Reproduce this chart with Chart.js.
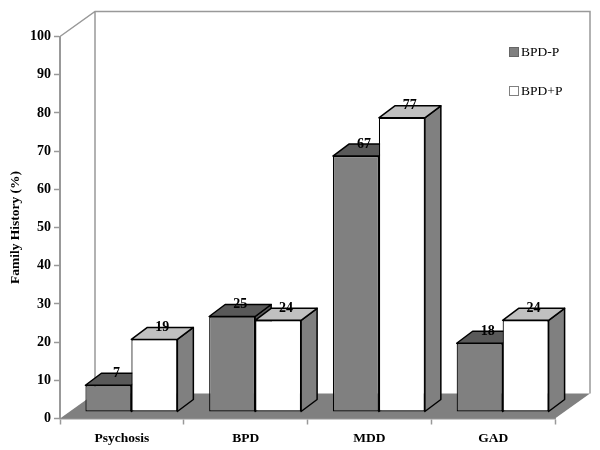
<!DOCTYPE html>
<html>
<head>
<meta charset="utf-8">
<style>
  body { margin: 0; background: #fff; }
  canvas { display: block; }
</style>
<script src="https://cdn.jsdelivr.net/npm/chart.js@4"></script>
</head>
<body>
<canvas id="familyChart" width="600" height="450"></canvas>
<script>
// --- Data ---
const categories = ['Psychosis', 'BPD', 'MDD', 'GAD'];
const bpdMinusP = [7, 25, 67, 18];
const bpdPlusP = [19, 24, 77, 24];

// --- 3D look ---
const SERIF = "'Liberation Serif', serif";
const GREY = '#808080';
const LINE = '#999999';
const WALL_DX = 35, WALL_DY = 25;   // depth of the box
const BAR_DX = 9.5, BAR_DY = 6.5;   // bars stand a little behind the front edge
const DEPTH_DX = 16, DEPTH_DY = 12; // depth of one bar

const topColors = ['#595959', '#c0c0c0'];
const sideColors = ['#595959', '#808080'];

function poly(ctx, pts, fill, stroke, width) {
    ctx.beginPath();
    pts.forEach((p, i) => i ? ctx.lineTo(p[0], p[1]) : ctx.moveTo(p[0], p[1]));
    ctx.closePath();
    if (fill) { ctx.fillStyle = fill; ctx.fill(); }
    if (stroke) { ctx.strokeStyle = stroke; ctx.lineWidth = width; ctx.lineJoin = 'round'; ctx.stroke(); }
}

const box3d = {
    id: 'box3d',
    beforeDatasetsDraw(chart) {
        const { ctx, chartArea: a } = chart;
        // walls and floor
        poly(ctx, [[a.left, a.bottom], [a.right, a.bottom], [a.right + WALL_DX, a.bottom - WALL_DY], [a.left + WALL_DX, a.bottom - WALL_DY]], GREY);
        ctx.strokeStyle = LINE;
        ctx.lineWidth = 1.5;
        ctx.beginPath();
        ctx.moveTo(a.left, a.top);
        ctx.lineTo(a.left + WALL_DX, a.top - WALL_DY);
        ctx.lineTo(a.right + WALL_DX, a.top - WALL_DY);
        ctx.lineTo(a.right + WALL_DX, a.bottom - WALL_DY);
        ctx.moveTo(a.left + WALL_DX, a.top - WALL_DY);
        ctx.lineTo(a.left + WALL_DX, a.bottom - WALL_DY);
        ctx.stroke();

        // top and side of each bar, left series first, fronts come later from the library
        ctx.save();
        ctx.translate(BAR_DX, -BAR_DY);
        categories.forEach((c, j) => {
            chart.data.datasets.forEach((ds, i) => {
                const bar = chart.getDatasetMeta(i).data[j];
                const l = bar.x - bar.width / 2, r = bar.x + bar.width / 2;
                poly(ctx, [[r, bar.y], [r + DEPTH_DX, bar.y - DEPTH_DY], [r + DEPTH_DX, bar.base - DEPTH_DY], [r, bar.base]], sideColors[i], '#000', 1.5);
                poly(ctx, [[l, bar.y], [l + DEPTH_DX, bar.y - DEPTH_DY], [r + DEPTH_DX, bar.y - DEPTH_DY], [r, bar.y]], topColors[i], '#000', 1.5);
            });
        });
        ctx.restore();
    },
    beforeDatasetDraw(chart) {
        chart.ctx.save();
        chart.ctx.translate(BAR_DX, -BAR_DY);
    },
    afterDatasetDraw(chart) {
        chart.ctx.restore();
    },
    // value labels and legend
    afterDatasetsDraw(chart) {
        const { ctx } = chart;
        ctx.save();
        ctx.fillStyle = '#000';
        ctx.font = 'bold 14px ' + SERIF;
        ctx.textAlign = 'center';
        ctx.textBaseline = 'middle';
        chart.data.datasets.forEach((ds, i) => {
            chart.getDatasetMeta(i).data.forEach((bar, j) => {
                ctx.fillText(ds.data[j], bar.x + BAR_DX + DEPTH_DX / 2, bar.y - BAR_DY - 12);
            });
        });
        const legendY = [52, 91];
        ctx.textAlign = 'left';
        ctx.font = '13.5px ' + SERIF;
        chart.data.datasets.forEach((ds, i) => {
            ctx.fillStyle = ds.backgroundColor;
            ctx.strokeStyle = i ? '#808080' : '#666666';
            ctx.lineWidth = 1;
            ctx.fillRect(509.5, legendY[i] - 4.5, 9, 9);
            ctx.strokeRect(509.5, legendY[i] - 4.5, 9, 9);
            ctx.fillStyle = '#000';
            ctx.fillText(ds.label, 521, legendY[i]);
        });
        ctx.restore();
    }
};

// --- Chart ---
const ctx = document.getElementById('familyChart').getContext('2d');
new Chart(ctx, {
    type: 'bar',
    data: {
        labels: categories,
        datasets: [
            { label: 'BPD-P', data: bpdMinusP, backgroundColor: GREY },
            { label: 'BPD+P', data: bpdPlusP, backgroundColor: '#ffffff' }
        ]
    },
    options: {
        responsive: false,
        animation: false,
        layout: { padding: { top: 36.5, right: 45, left: 0, bottom: 0 } },
        datasets: {
            bar: {
                categoryPercentage: 0.743,
                barPercentage: 1,
                borderColor: '#000',
                borderWidth: 1.2,
                borderSkipped: false,
                clip: false
            }
        },
        scales: {
            y: {
                min: 0,
                max: 100,
                afterFit(s) { s.width = 60; },
                ticks: { stepSize: 10, color: '#000', padding: 3, font: { family: SERIF, size: 14, weight: 'bold' } },
                grid: { drawOnChartArea: false, color: LINE, tickLength: 6, tickWidth: 1.5 },
                border: { color: LINE, width: 2 },
                title: {
                    display: true,
                    text: 'Family History (%)',
                    color: '#000',
                    padding: { top: 7, bottom: 0 },
                    font: { family: SERIF, size: 13.5, weight: 'bold' }
                }
            },
            x: {
                afterFit(s) { s.height = 31.5; },
                ticks: { color: '#000', padding: 6, font: { family: SERIF, size: 13.5, weight: 'bold' } },
                grid: { drawOnChartArea: false, color: LINE, tickLength: 6, tickWidth: 1.5 },
                border: { color: LINE, width: 1.5 }
            }
        },
        plugins: { legend: { display: false }, tooltip: { enabled: false } }
    },
    plugins: [box3d]
});
</script>
</body>
</html>
